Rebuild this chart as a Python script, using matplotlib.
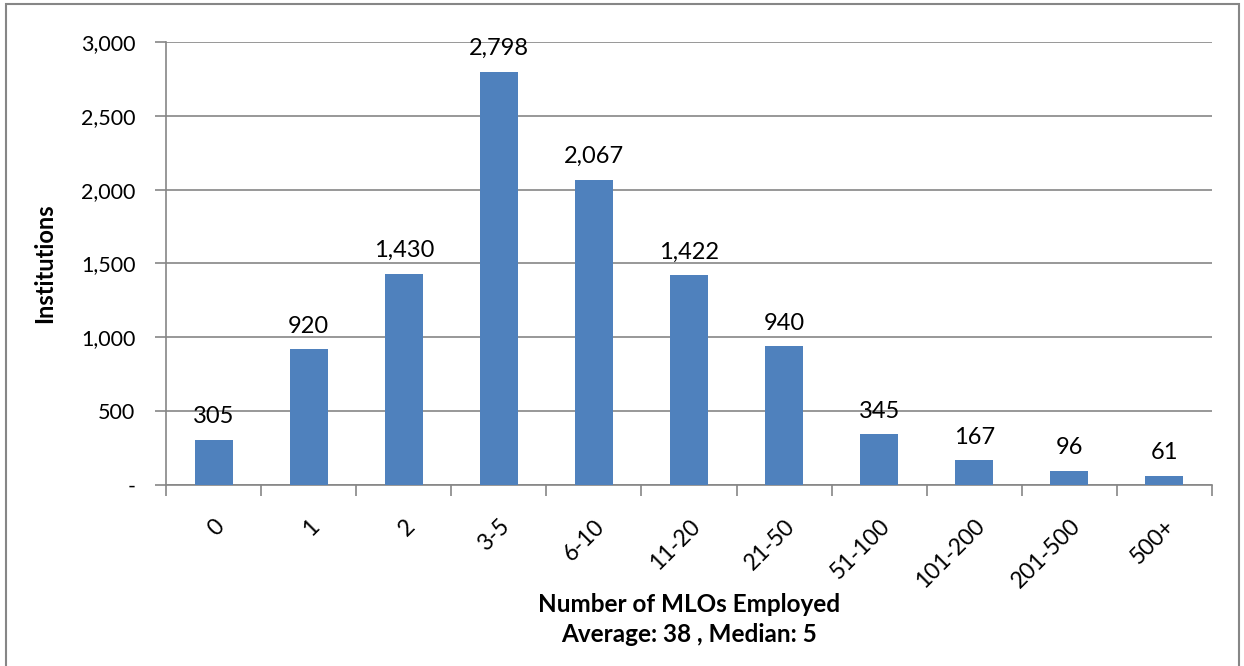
import matplotlib.pyplot as plt
from matplotlib.patches import Rectangle
from matplotlib.ticker import FuncFormatter
import numpy as np

categories = ['0', '1', '2', '3-5', '6-10', '11-20', '21-50', '51-100', '101-200', '201-500', '500+']
institutions = [305, 920, 1430, 2798, 2067, 1422, 940, 345, 167, 96, 61]

plt.rcParams['font.family'] = ['Lato', 'DejaVu Sans']

fig = plt.figure(figsize=(12.44, 6.66), dpi=100)
ax = fig.add_axes([166 / 1244, 1 - 485 / 666, (1212 - 166) / 1244, (485 - 42) / 666])

x = np.arange(len(categories))
bars = ax.bar(x, institutions, width=0.4, color='#4f81bd', zorder=3)

for xi, v in zip(x, institutions):
    ax.annotate(f'{v:,}', (xi, v), xytext=(0, 9), textcoords='offset points',
                ha='center', va='bottom', fontsize=17)

ax.set_xlim(-0.5, len(categories) - 0.5)
ax.set_ylim(0, 3000)
ax.set_yticks(range(0, 3001, 500))
ax.yaxis.set_major_formatter(FuncFormatter(lambda v, p: '-' if v == 0 else f'{int(v):,}'))
ax.grid(axis='y', color='#868686', linewidth=1.2, zorder=0)

ax.set_xticks(x)
ax.set_xticklabels(categories, rotation=45, ha='right', va='top', rotation_mode='anchor')
ax.set_xticks(np.arange(-0.5, len(categories), 1), minor=True)
ax.tick_params(axis='x', which='major', length=0, labelsize=16.5, pad=22)
ax.tick_params(axis='x', which='minor', length=8, width=1.2, color='#868686')
ax.tick_params(axis='y', length=8, width=1.2, color='#868686', labelsize=15.5, pad=14)

for side in ['top', 'right']:
    ax.spines[side].set_visible(False)
for side in ['left', 'bottom']:
    ax.spines[side].set_color('#868686')
    ax.spines[side].set_linewidth(1.2)

ax.set_ylabel('Institutions', fontsize=17, fontweight='bold')
ax.yaxis.set_label_coords((56 - 166) / 1046, 0.5)
fig.text((166 + 1212) / 2 / 1244, 1 - 604 / 666, 'Number of MLOs Employed',
         ha='center', va='center', fontsize=17.5, fontweight='bold')
fig.text((166 + 1212) / 2 / 1244, 1 - 634 / 666, 'Average: 38 , Median: 5',
         ha='center', va='center', fontsize=17.5, fontweight='bold')

fig.patches.append(Rectangle((6 / 1244, -0.05), 1233 / 1244, 1 - 4 / 666 + 0.05,
                             transform=fig.transFigure, fill=False,
                             edgecolor='#868686', linewidth=1.5))

fig.savefig('out.png', dpi=100)
